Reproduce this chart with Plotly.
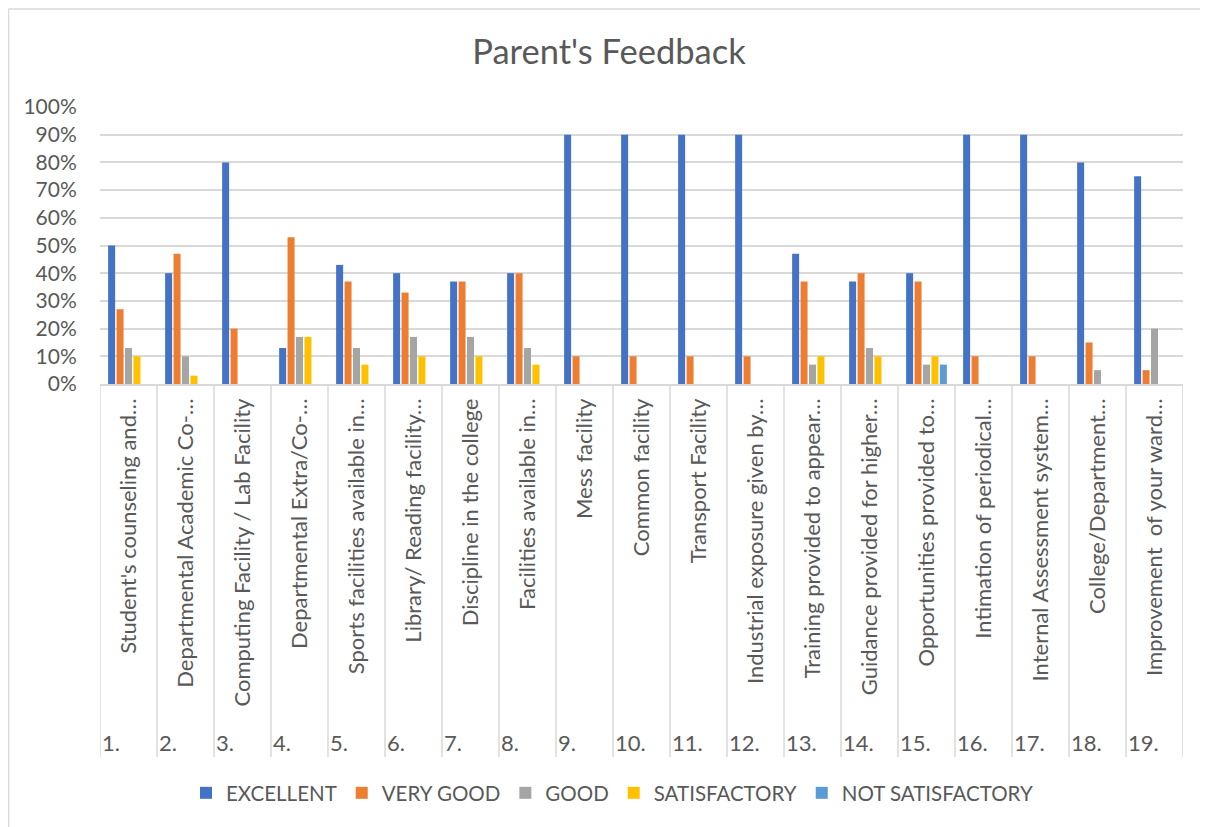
import plotly.graph_objects as go

numbers = ["1.", "2.", "3.", "4.", "5.", "6.", "7.", "8.", "9.", "10.",
           "11.", "12.", "13.", "14.", "15.", "16.", "17.", "18.", "19."]
labels = [
    "Student's counseling and…",
    "Departmental Academic Co-…",
    "Computing Facility / Lab Facility",
    "Departmental Extra/Co-…",
    "Sports facilities available in…",
    "Library/ Reading facility…",
    "Discipline in the college",
    "Facilities available in…",
    "Mess facility",
    "Common facility",
    "Transport Facility",
    "Industrial exposure given by…",
    "Training provided to appear…",
    "Guidance provided for higher…",
    "Opportunities provided to…",
    "Intimation of periodical…",
    "Internal Assessment system…",
    "College/Department…",
    "Improvement  of your ward…",
]
excellent = [0.50, 0.40, 0.80, 0.13, 0.43, 0.40, 0.37, 0.40, 0.90, 0.90,
             0.90, 0.90, 0.47, 0.37, 0.40, 0.90, 0.90, 0.80, 0.75]
very_good = [0.27, 0.47, 0.20, 0.53, 0.37, 0.33, 0.37, 0.40, 0.10, 0.10,
             0.10, 0.10, 0.37, 0.40, 0.37, 0.10, 0.10, 0.15, 0.05]
good = [0.13, 0.10, 0, 0.17, 0.13, 0.17, 0.17, 0.13, 0, 0,
        0, 0, 0.07, 0.13, 0.07, 0, 0, 0.05, 0.20]
satisfactory = [0.10, 0.03, 0, 0.17, 0.07, 0.10, 0.10, 0.07, 0, 0,
                0, 0, 0.10, 0.10, 0.10, 0, 0, 0, 0]
not_satisfactory = [0, 0, 0, 0, 0, 0, 0, 0, 0, 0,
                    0, 0, 0, 0, 0.07, 0, 0, 0, 0]

series = [
    ("EXCELLENT", excellent, "#4472C4"),
    ("VERY GOOD", very_good, "#ED7D31"),
    ("GOOD", good, "#A5A5A5"),
    ("SATISFACTORY", satisfactory, "#FFC000"),
    ("NOT SATISFACTORY", not_satisfactory, "#5B9BD5"),
]

FONT = "Lato"
TXT = "#595959"
GRID = "#D9D9D9"
OFF = 8  # page body margin
W, H = 1208 - OFF, 827 - OFF
L, R, T = 100 - OFF, W - (1183 - OFF), 107 - OFF
B = H - (384 - OFF)
PH = H - T - B
PW = W - L - R


def py(pix):
    return (H - B - (pix - OFF)) / PH


def px(pix):
    return ((pix - OFF) - L) / PW


xs = list(range(len(labels)))
fig = go.Figure()
for name, vals, col in series:
    fig.add_trace(go.Bar(x=xs, y=vals, name=name, marker_color=col,
                         marker_line_width=0))

shapes = []
for i in range(len(labels) + 1):
    shapes.append(dict(type="line", xref="x", yref="paper",
                       x0=i - 0.5, x1=i - 0.5, y0=0, y1=py(757),
                       line=dict(color=GRID, width=1.5)))
# chart border (left and top)
shapes.append(dict(type="line", xref="paper", yref="paper",
                   x0=px(8.5), x1=px(1215), y0=py(9), y1=py(9),
                   line=dict(color=GRID, width=1.5)))
shapes.append(dict(type="line", xref="paper", yref="paper",
                   x0=px(8.5), x1=px(8.5), y0=py(9), y1=py(835),
                   line=dict(color=GRID, width=1.5)))

annotations = []
for i, n in enumerate(numbers):
    annotations.append(dict(text=n, xref="x", yref="paper", x=i - 0.5,
                            y=py(743), xanchor="left", yanchor="middle",
                            xshift=0, showarrow=False,
                            font=dict(family=FONT, size=22, color=TXT)))

fig.update_layout(
    width=W, height=H,
    margin=dict(l=L, r=R, t=T, b=B, autoexpand=False),
    paper_bgcolor="white", plot_bgcolor="white",
    barmode="group", bargap=0.26, bargroupgap=0.17,
    title=dict(text="Parent's Feedback", x=px(609), xanchor="center",
               xref="paper", y=1 - (52 - OFF) / H, yanchor="middle",
               font=dict(family=FONT, size=34.5, color=TXT)),
    font=dict(family=FONT, color=TXT),
    showlegend=True,
    legend=dict(orientation="h", x=px(612), xanchor="center", y=py(793),
                yanchor="middle", font=dict(family=FONT, size=20.5, color=TXT),
                itemwidth=30, traceorder="normal"),
    xaxis=dict(tickmode="array", tickvals=xs, ticktext=labels,
               tickangle=-90, range=[-0.5, len(labels) - 0.5],
               showgrid=False, zeroline=False, showline=True,
               linecolor=GRID, linewidth=1.5, ticks="",
               ticklabelstandoff=4,
               tickfont=dict(family=FONT, size=22, color=TXT)),
    yaxis=dict(range=[0, 1.0], dtick=0.1, tickformat=".0%",
               showgrid=True, gridcolor=GRID, gridwidth=1.5,
               zeroline=False, showline=False,
               ticks="outside", ticklen=18, tickcolor="rgba(0,0,0,0)",
               tickfont=dict(family=FONT, size=21, color=TXT)),
    shapes=shapes, annotations=annotations,
)

fig.write_html("out.html")
